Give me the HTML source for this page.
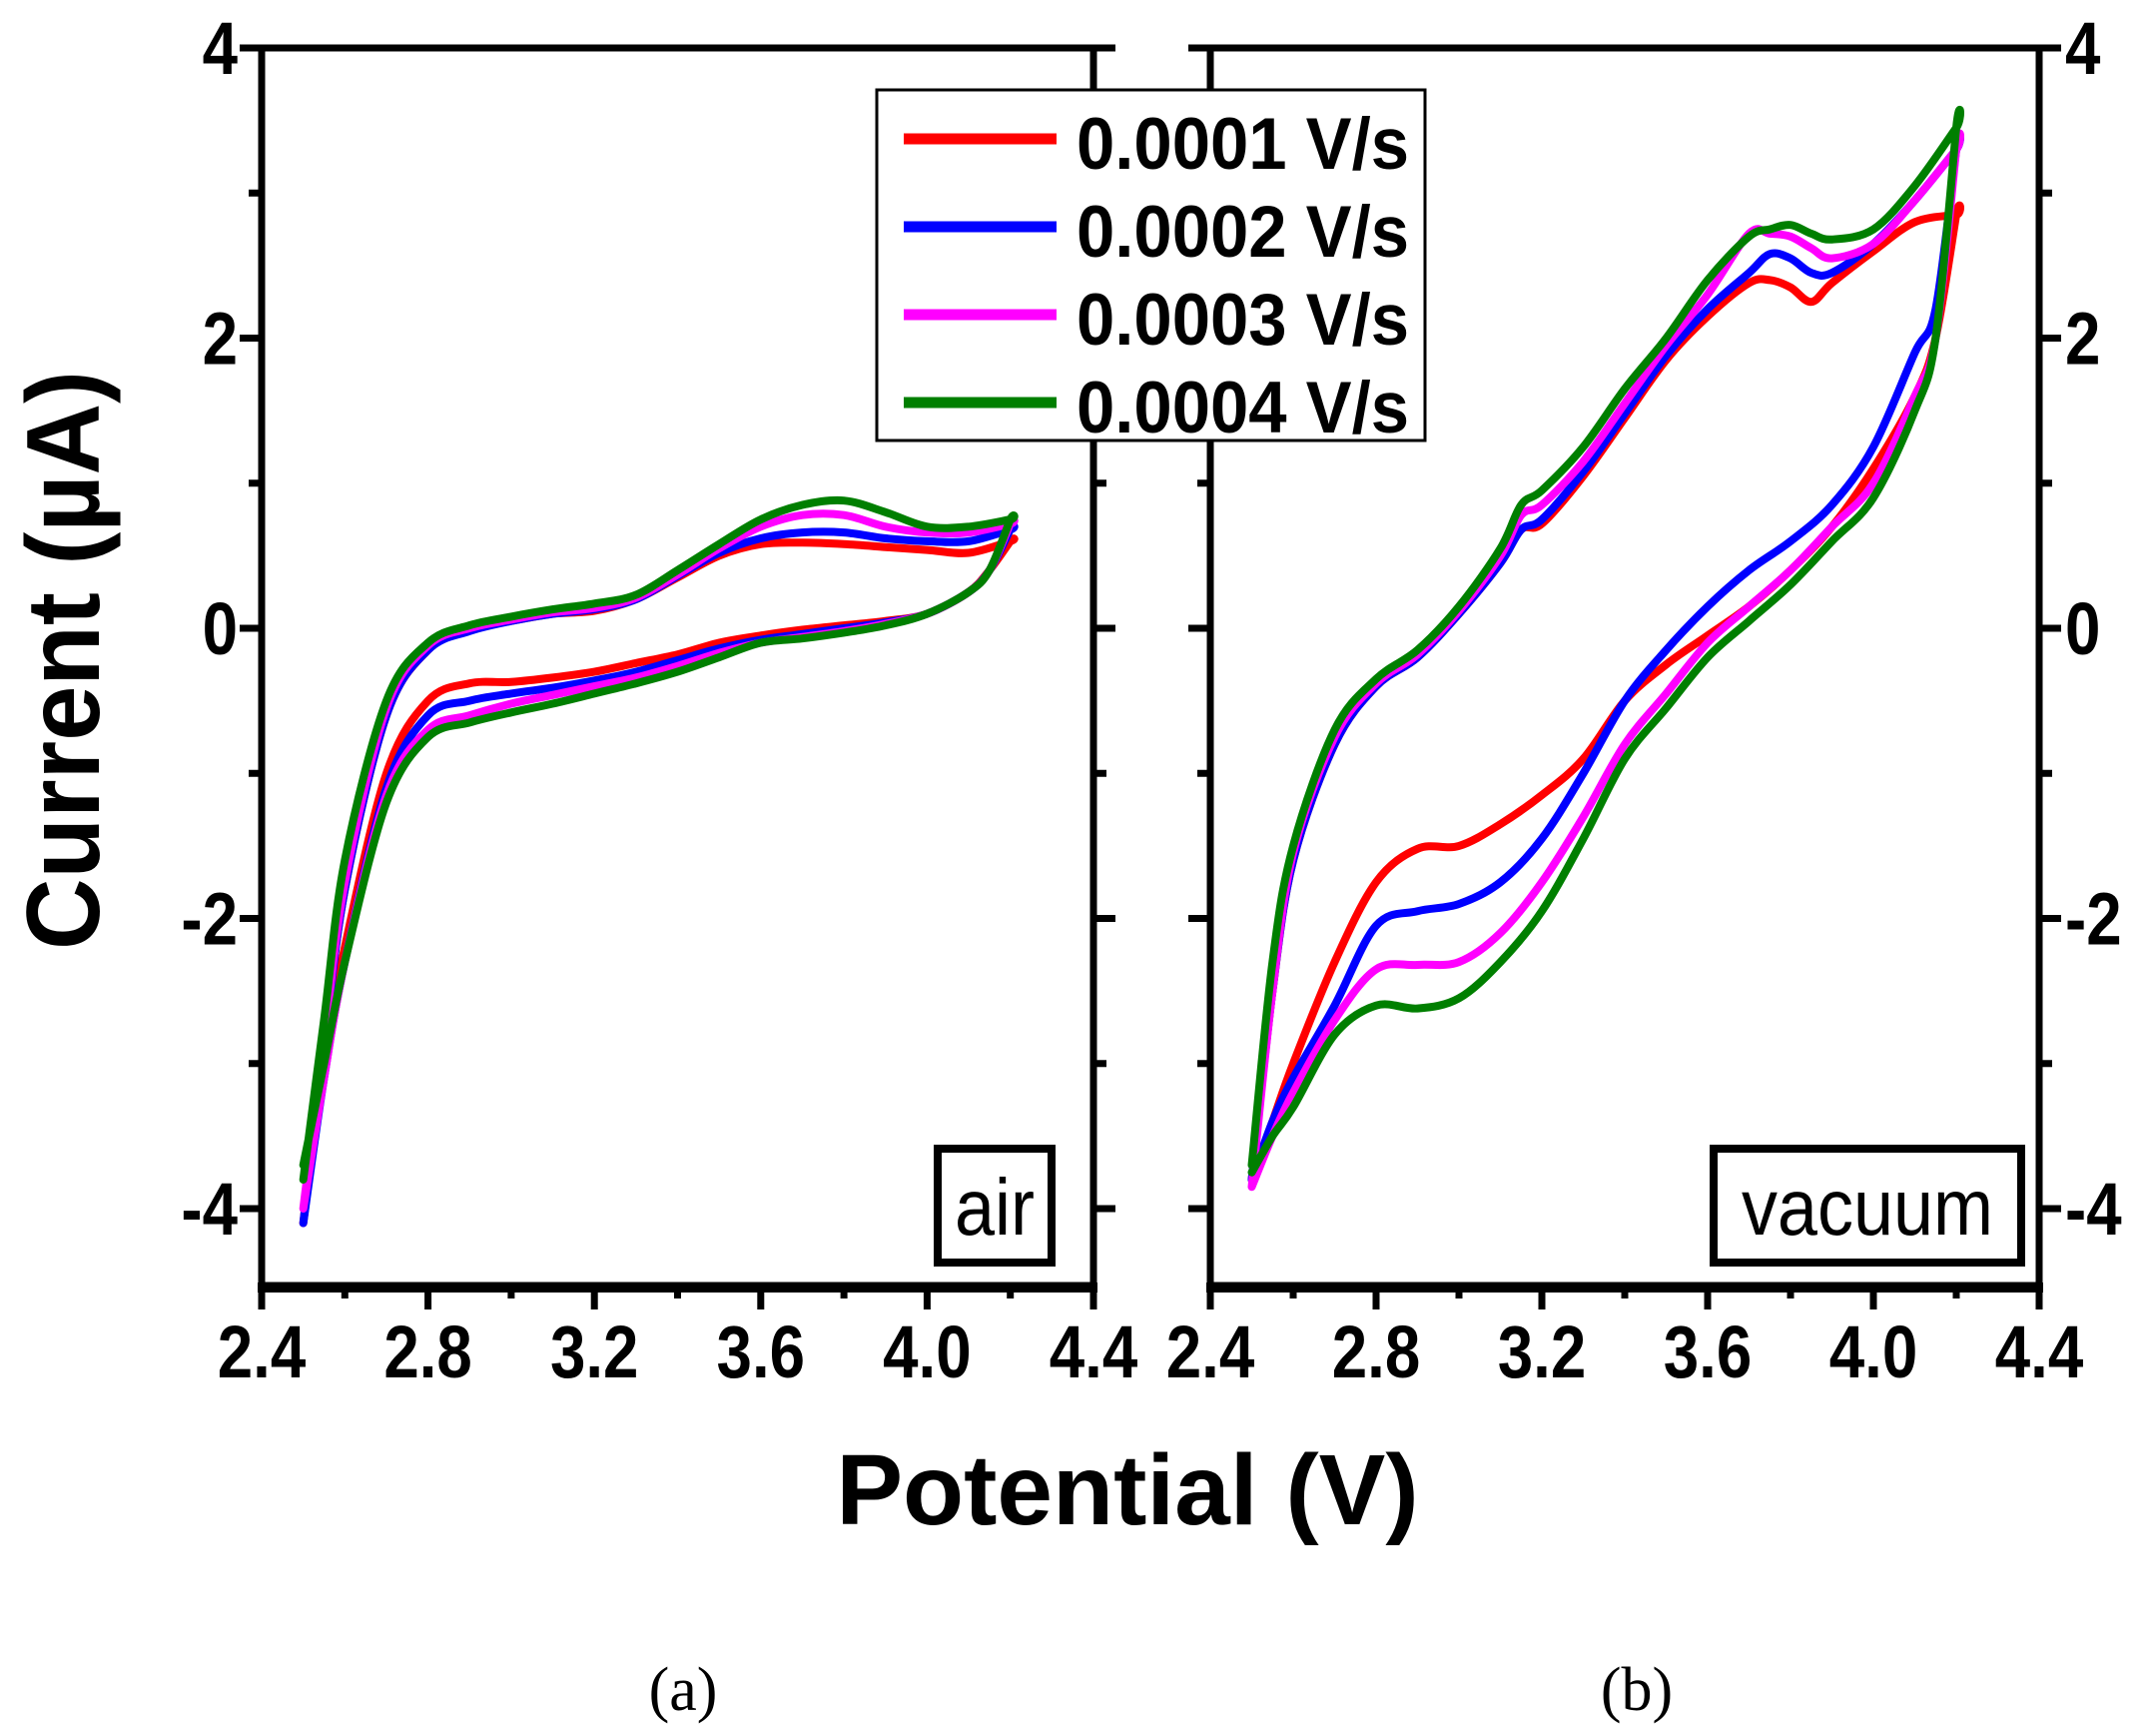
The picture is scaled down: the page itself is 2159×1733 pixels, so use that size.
<!DOCTYPE html>
<html><head><meta charset="utf-8"><style>
html,body{margin:0;padding:0;background:#fff;}
svg{display:block;font-family:"Liberation Sans",Arial,sans-serif;}
</style></head><body>
<svg id="chart" width="2159" height="1733" viewBox="0 0 2159 1733" xmlns="http://www.w3.org/2000/svg">
<g id="plots"></g>
</svg>
<script>
// ---- data ----
const seriesNames = ["0.0001 V/s","0.0002 V/s","0.0003 V/s","0.0004 V/s"];
const seriesColors = ["#ff0000","#0000ff","#ff00ff","#007f00"];
const xTicks = [2.4,2.8,3.2,3.6,4.0,4.4];
const xTickLabels = ["2.4","2.8","3.2","3.6","4.0","4.4"];
const yTicks = [-4,-2,0,2,4];
const yTickLabels = ["-4","-2","0","2","4"];

// Panel (a) air: loop potentials / currents (forward then reverse)
const airV = [2.5,2.55,2.6,2.7,2.8,2.9,3.0,3.1,3.2,3.3,3.4,3.5,3.6,3.7,3.8,3.9,4.0,4.1,4.2,4.2,4.15,4.1,4.0,3.9,3.8,3.7,3.6,3.5,3.4,3.3,3.2,3.1,3.0,2.9,2.8,2.7,2.6,2.55,2.5];
const airI_red = [-4.1,-2.9,-1.8,-0.6,-0.15,0.0,0.05,0.1,0.12,0.2,0.35,0.5,0.58,0.59,0.58,0.56,0.54,0.52,0.6,0.6,0.4,0.25,0.1,0.05,0.02,-0.01,-0.05,-0.1,-0.18,-0.24,-0.3,-0.34,-0.37,-0.38,-0.5,-1.0,-2.2,-3.0,-4.1];
const airI_blue = [-4.1,-2.9,-1.8,-0.6,-0.15,-0.02,0.05,0.1,0.13,0.2,0.36,0.52,0.62,0.66,0.66,0.62,0.6,0.6,0.68,0.68,0.4,0.25,0.1,0.04,0.0,-0.04,-0.08,-0.14,-0.22,-0.3,-0.36,-0.41,-0.45,-0.5,-0.6,-1.1,-2.3,-3.1,-4.1];
const airI_mag = [-4.0,-2.85,-1.75,-0.55,-0.12,0.0,0.06,0.11,0.14,0.21,0.37,0.55,0.7,0.78,0.78,0.7,0.66,0.66,0.72,0.72,0.4,0.25,0.1,0.03,-0.02,-0.06,-0.1,-0.17,-0.26,-0.34,-0.4,-0.46,-0.52,-0.6,-0.7,-1.15,-2.3,-3.1,-4.0];
const airI_green = [-3.8,-2.7,-1.6,-0.5,-0.1,0.02,0.08,0.13,0.17,0.23,0.4,0.58,0.75,0.85,0.88,0.8,0.7,0.7,0.75,0.75,0.4,0.25,0.1,0.02,-0.03,-0.07,-0.1,-0.2,-0.3,-0.38,-0.45,-0.52,-0.58,-0.65,-0.75,-1.2,-2.3,-3.0,-3.7];

// Panel (b) vacuum
const vacV = [2.5,2.55,2.6,2.7,2.8,2.9,3.0,3.1,3.15,3.2,3.3,3.4,3.5,3.6,3.7,3.75,3.8,3.85,3.9,4.0,4.1,4.2,4.2,4.15,4.1,4.0,3.9,3.8,3.7,3.6,3.5,3.4,3.3,3.2,3.1,3.0,2.9,2.8,2.7,2.6,2.55,2.5];
const vacI_red = [-3.8,-2.5,-1.6,-0.8,-0.4,-0.2,0.1,0.45,0.68,0.72,1.05,1.45,1.85,2.15,2.38,2.4,2.35,2.25,2.38,2.6,2.8,2.85,2.85,2.0,1.6,1.1,0.7,0.4,0.15,-0.05,-0.25,-0.5,-0.9,-1.15,-1.35,-1.5,-1.52,-1.75,-2.3,-3.0,-3.4,-3.8];
const vacI_blue = [-3.8,-2.5,-1.6,-0.8,-0.4,-0.2,0.1,0.45,0.68,0.75,1.08,1.48,1.88,2.2,2.45,2.58,2.55,2.45,2.45,2.65,2.95,3.3,3.3,2.2,1.9,1.25,0.85,0.6,0.4,0.15,-0.15,-0.5,-1.0,-1.45,-1.75,-1.9,-1.95,-2.05,-2.6,-3.1,-3.4,-3.8];
const vacI_mag = [-3.85,-2.5,-1.55,-0.75,-0.38,-0.18,0.12,0.5,0.78,0.85,1.15,1.55,1.95,2.3,2.72,2.72,2.7,2.62,2.55,2.65,2.95,3.3,3.3,2.0,1.6,1.0,0.7,0.4,0.15,-0.1,-0.45,-0.8,-1.3,-1.75,-2.1,-2.3,-2.32,-2.35,-2.7,-3.2,-3.5,-3.85];
const vacI_green = [-3.7,-2.3,-1.5,-0.7,-0.35,-0.15,0.15,0.55,0.85,0.95,1.25,1.65,2.0,2.4,2.7,2.75,2.78,2.72,2.68,2.75,3.05,3.45,3.45,2.0,1.5,0.9,0.6,0.3,0.05,-0.2,-0.55,-0.9,-1.45,-1.95,-2.3,-2.55,-2.62,-2.6,-2.8,-3.3,-3.5,-3.75];

const panels = [
  {name:"air", x0:262, x1:1095, V:airV, I:[airI_red,airI_blue,airI_mag,airI_green], label:"air", box:[939,1150,114,114], side:"left", tag:"(a)"},
  {name:"vacuum", x0:1212, x1:2042, V:vacV, I:[vacI_red,vacI_blue,vacI_mag,vacI_green], label:"vacuum", box:[1716,1150,308,114], side:"right", tag:"(b)"}
];
const yTop = 48, yBot = 1287, yMax = 4, yMin = -4.53;
const xMin = 2.4, xMax = 4.4;
const NS = "http://www.w3.org/2000/svg";
const root = document.getElementById('plots');
function el(tag, attrs, parent){const e=document.createElementNS(NS,tag);for(const k in attrs)e.setAttribute(k,attrs[k]);(parent||root).appendChild(e);return e;}
function yScale(v){return yTop + (yMax - v)/(yMax - yMin)*(yBot - yTop);}
function condense(t, f){ const w=t.getComputedTextLength(); t.setAttribute('textLength', (w*f).toFixed(1)); t.setAttribute('lengthAdjust','spacingAndGlyphs'); }
function smooth(pts){
  let d='M'+pts[0][0].toFixed(1)+','+pts[0][1].toFixed(1);
  for(let i=0;i<pts.length-1;i++){
    const p0=pts[Math.max(0,i-1)], p1=pts[i], p2=pts[i+1], p3=pts[Math.min(pts.length-1,i+2)];
    const c1=[p1[0]+(p2[0]-p0[0])/6, p1[1]+(p2[1]-p0[1])/6];
    const c2=[p2[0]-(p3[0]-p1[0])/6, p2[1]-(p3[1]-p1[1])/6];
    d+=' C'+c1[0].toFixed(1)+','+c1[1].toFixed(1)+' '+c2[0].toFixed(1)+','+c2[1].toFixed(1)+' '+p2[0].toFixed(1)+','+p2[1].toFixed(1);
  }
  return d;
}

panels.forEach(p=>{
  const xs = v => p.x0 + (v - xMin)/(xMax - xMin)*(p.x1 - p.x0);
  const g = el('g',{});
  
  
  p.I.forEach((arr,si)=>{
    const pts = arr.map((v,i)=>[xs(p.V[i]), yScale(v)]);
    const path = el('path',{d:smooth(pts),fill:'none',stroke:seriesColors[si],'stroke-width':8,'stroke-linejoin':'round','stroke-linecap':'round'},g);
    
    
  });
  const frame = el('rect',{x:p.x0,y:yTop,width:p.x1-p.x0,height:yBot-yTop,fill:'none',stroke:'#000','stroke-width':7},g);
  
  
  el('line',{x1:p.x0-4,x2:p.x1+4,y1:yBot+2,y2:yBot+2,stroke:'#000','stroke-width':10},g);
  for(let v=2.4; v<=4.401; v+=0.2){
    const major = Math.abs(Math.round(v/0.4)*0.4 - v) < 1e-6;
    el('line',{x1:xs(v),x2:xs(v),y1:yBot,y2:yBot+(major?24:13),stroke:'#000','stroke-width':7},g);
  }
  xTicks.forEach((v,i)=>{
    const t = el('text',{x:xs(v),y:1379,'text-anchor':'middle','font-size':74,'font-weight':'bold'},g);
    t.textContent = xTickLabels[i];
    
    
    condense(t,0.86);
  });
  for(let v=-4; v<=4; v+=1){
    const major = v%2===0;
    const L = major?22:13;
    el('line',{x1:p.x0,x2:p.x0-L,y1:yScale(v),y2:yScale(v),stroke:'#000','stroke-width':7},g);
    el('line',{x1:p.x1,x2:p.x1+L,y1:yScale(v),y2:yScale(v),stroke:'#000','stroke-width':7},g);
  }
  yTicks.forEach((v,i)=>{
    const left = p.side==='left';
    const t = el('text',{x:left?p.x0-24:p.x1+26,y:yScale(v)+26,'text-anchor':left?'end':'start','font-size':74,'font-weight':'bold'},g);
    t.textContent = yTickLabels[i];
    
    
    condense(t,0.86);
  });
  const b = p.box;
  const br = el('rect',{x:b[0],y:b[1],width:b[2],height:b[3],fill:'#fff',stroke:'#000','stroke-width':8},g);
  
  
  const bt = el('text',{x:b[0]+b[2]/2,y:b[1]+86,'text-anchor':'middle','font-size':80},g);
  bt.textContent = p.label;
  
  
  condense(bt,0.9);
  const tg = el('text',{x:p.side==='left'?684:1639,y:1712,'text-anchor':'middle','font-size':62,'font-family':'"Liberation Serif",serif'},g);
  tg.textContent = p.tag;
  
  
});

const lg = el('g',{});


const lr = el('rect',{x:878,y:90,width:549,height:351,fill:'#fff',stroke:'#000','stroke-width':3},lg);


const legY = [139,227,315,403];
seriesNames.forEach((n,i)=>{
  const ln = el('line',{x1:905,x2:1058,y1:legY[i],y2:legY[i],stroke:seriesColors[i],'stroke-width':11},lg);
  
  
  const t = el('text',{x:1078,y:legY[i]+30,'font-size':73,'font-weight':'bold',textLength:333,lengthAdjust:'spacingAndGlyphs'},lg);
  t.textContent = n;
  
  
});

const xt = el('text',{x:1129,y:1526,'text-anchor':'middle','font-size':100,'font-weight':'bold'});
xt.textContent = 'Potential (V)';


const yt = el('text',{x:0,y:0,'text-anchor':'middle','font-size':104,'font-weight':'bold',transform:'translate(99,661) rotate(-90)',textLength:580,lengthAdjust:'spacingAndGlyphs'});
yt.textContent = 'Current (µA)';


</script>
</body></html>
